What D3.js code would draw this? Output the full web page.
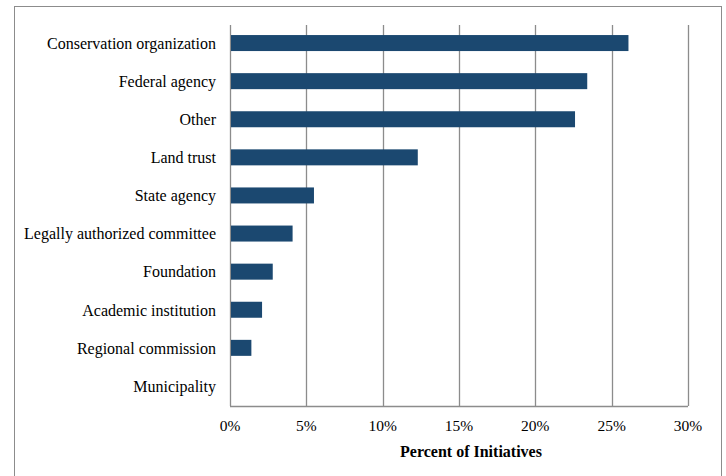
<!DOCTYPE html>
<html>
<head>
<meta charset="utf-8">
<script src="https://cdn.jsdelivr.net/npm/d3@7"></script>
<style>
    body { margin: 0; background: #fff; }
</style>
</head>
<body>
<svg id="chart" width="726" height="476"></svg>
<script>
var categories = ["Conservation organization", "Federal agency", "Other", "Land trust", "State agency",
    "Legally authorized committee", "Foundation", "Academic institution", "Regional commission", "Municipality"];
var percents = [26.1, 23.4, 22.6, 12.3, 5.5, 4.1, 2.8, 2.1, 1.4, 0];
var tickValues = [0, 5, 10, 15, 20, 25, 30];
var axisTitle = "Percent of Initiatives";

var fontFamily = "'Liberation Serif', 'Times New Roman', Times, 'DejaVu Serif', serif";
var svg = d3.select("#chart")
    .attr("font-family", fontFamily)
    .style("font-family", fontFamily);
var margin = { left: 230, right: 38, top: 25, bottom: 70 };
var width = 726, height = 476;

// frame round the whole chart
svg.append("rect")
    .attr("x", 14.5).attr("y", 6.5)
    .attr("width", 707).attr("height", 480)
    .attr("fill", "none")
    .attr("stroke", "#8c8c8c")
    .attr("stroke-width", 1)
;

var x = d3.scaleLinear().domain([0, 30]).range([margin.left, width - margin.right]);
var y = d3.scaleBand().domain(categories).range([margin.top, height - margin.bottom]).paddingInner(0.58).paddingOuter(0.29);

// vertical gridlines
svg.append("g").selectAll("line").data(tickValues).enter().append("line")
    .attr("x1", function (d) { return Math.round(x(d)) + 0.5; })
    .attr("x2", function (d) { return Math.round(x(d)) + 0.5; })
    .attr("y1", margin.top)
    .attr("y2", height - margin.bottom)
    .attr("stroke", "#8c8c8c")
    .attr("stroke-width", 1.3)
;

// bottom axis line
svg.append("line")
    .attr("x1", x(0)).attr("x2", x(30))
    .attr("y1", height - margin.bottom + 0.5).attr("y2", height - margin.bottom + 0.5)
    .attr("stroke", "#8c8c8c").attr("stroke-width", 1.3)
;

svg.append("g").selectAll("rect").data(percents).enter().append("rect")
    .attr("x", x(0) + 1)
    .attr("y", function (d, i) { return y(categories[i]) - 1; })
    .attr("width", function (d) { return Math.max(0, x(d) - x(0) - 1); })
    .attr("height", y.bandwidth())
    .attr("fill", "#1b4870")
;

// category labels
svg.append("g").selectAll("text").data(categories).enter().append("text")
    .attr("x", 216)
    .attr("y", function (d) { return y(d) + y.bandwidth() / 2; })
    .attr("dy", "0.3em")
    .attr("text-anchor", "end")
    .attr("font-size", "16px")
    .text(function (d) { return d; })
;

// tick labels
svg.append("g").selectAll("text").data(tickValues).enter().append("text")
    .attr("x", function (d) { return x(d); })
    .attr("y", 431)
    .attr("text-anchor", "middle")
    .attr("font-size", "15.5px")
    .text(function (d) { return d + "%"; })
;

svg.append("text")
    .attr("x", 471)
    .attr("y", 457)
    .attr("text-anchor", "middle")
    .attr("font-size", "16px")
    .attr("font-weight", "bold")
    .text(axisTitle)
;
</script>
</body>
</html>
